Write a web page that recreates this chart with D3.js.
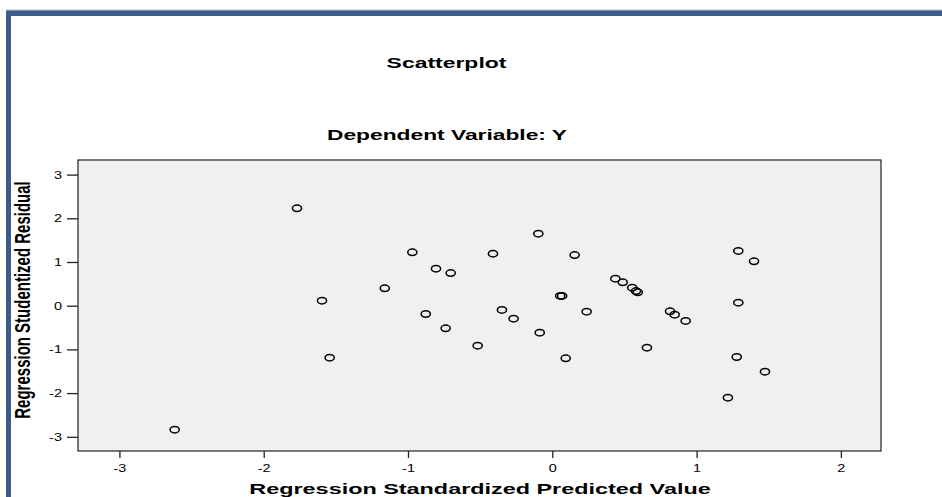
<!DOCTYPE html>
<html>
<head>
<meta charset="utf-8">
<script src="https://cdn.jsdelivr.net/npm/d3@7"></script>
<style>
  html, body { margin: 0; padding: 0; background: #ffffff; }
  svg { display: block; }
  text { font-family: "Liberation Sans", Arial, sans-serif; fill: #000; }
</style>
</head>
<body>
<svg id="chart" width="942" height="497"></svg>
<script>
// ---- Data ----
const predicted = [-2.617, -1.769, -1.596, -1.543, -1.161, -0.970, -0.877, -0.806, -0.739, -0.704,
                   -0.517, -0.411, -0.349, -0.268, -0.097, -0.087, 0.055, 0.068, 0.093, 0.155,
                   0.238, 0.437, 0.488, 0.554, 0.580, 0.592, 0.656, 0.816, 0.848, 0.924,
                   1.217, 1.278, 1.289, 1.289, 1.398, 1.474];
const residual  = [-2.838, 2.229, 0.114, -1.190, 0.398, 1.222, -0.190, 0.847, -0.517, 0.748,
                   -0.915, 1.190, -0.098, -0.297, 1.648, -0.618, 0.222, 0.222, -1.204, 1.160,
                   -0.137, 0.618, 0.535, 0.412, 0.336, 0.307, -0.961, -0.128, -0.206, -0.350,
                   -2.105, -1.174, 1.252, 0.069, 1.016, -1.510];
const xTicks = [-3, -2, -1, 0, 1, 2];
const yTicks = [-3, -2, -1, 0, 1, 2, 3];
const titleText = "Scatterplot";
const subtitleText = "Dependent Variable: Y";
const xTitle = "Regression Standardized Predicted Value";
const yTitle = "Regression Studentized Residual";

// ---- Layout ----
const SX = 1.45; // horizontal stretch of the original picture
const plot = { left: 78, top: 160, right: 881, bottom: 451 };
const svg = d3.select("#chart");

// Blue frame
svg.append("rect").attr("x", 6).attr("y", 10).attr("width", 942).attr("height", 6).attr("fill", "#3b5d8b");
svg.append("rect").attr("x", 6).attr("y", 10).attr("width", 5).attr("height", 497).attr("fill", "#3b5d8b");
svg.append("line").attr("x1", 6).attr("x2", 942).attr("y1", 10).attr("y2", 10).attr("stroke", "#b8c4d4").attr("stroke-width", 1);

// Scales
const x = d3.scaleLinear().domain([-3.287, 2.278]).range([plot.left, plot.right]);
const y = d3.scaleLinear().domain([-3.325, 3.334]).range([plot.bottom, plot.top]);

// Plot background
svg.append("rect")
  .attr("x", plot.left).attr("y", plot.top)
  .attr("width", plot.right - plot.left).attr("height", plot.bottom - plot.top)
  .attr("fill", "#f0f0f0").attr("stroke", "#222").attr("stroke-width", 1.2);

// Axes
const fmt = d => String(d);
const xAxis = svg.append("g").attr("transform", `translate(0,${plot.bottom})`)
  .call(d3.axisBottom(x).tickValues(xTicks).tickSize(7).tickFormat(fmt));
const yAxis = svg.append("g").attr("transform", `translate(${plot.left},0)`)
  .call(d3.axisLeft(y).tickValues(yTicks).tickSize(11).tickFormat(fmt));
[xAxis, yAxis].forEach(a => {
  a.select(".domain").remove();
  a.selectAll(".tick line").attr("stroke", "#222").attr("stroke-width", 1.3);
  a.selectAll(".tick text").attr("font-size", 10).attr("fill", "#000")
    .style("font-family", '"Liberation Sans", Arial, sans-serif');
});
// stretch tick labels horizontally like the original
xAxis.selectAll(".tick text").attr("y", 0).attr("dy", null)
  .attr("transform", `translate(0,21) scale(${SX},1)`);
yAxis.selectAll(".tick text").attr("x", 0).attr("dy", null)
  .attr("transform", `translate(-16,3.5) scale(${SX},1)`);

// Points (ellipses because of stretch)
svg.append("g").selectAll("ellipse")
  .data(predicted.map((p, i) => [p, residual[i]]))
  .join("ellipse")
  .attr("cx", d => x(d[0])).attr("cy", d => y(d[1]))
  .attr("rx", 4.6).attr("ry", 3.2)
  .attr("fill", "none").attr("stroke", "#000").attr("stroke-width", 1.5);

// Titles
function stretchedText(txt, cx, cy, size, sx, rotate) {
  const g = svg.append("g").attr("transform", `translate(${cx},${cy}) scale(${sx},1)` + (rotate ? ` rotate(${rotate})` : ""));
  g.append("text").attr("text-anchor", "middle").attr("font-weight", "bold")
    .attr("font-size", size).text(txt);
}
stretchedText(titleText, 446.5, 68, 15, 1.53);
stretchedText(subtitleText, 447, 139.5, 15, 1.52);
stretchedText(xTitle, 480, 493.5, 15, 1.56);
stretchedText(yTitle, 30, 300, 15, SX, -90);
</script>
</body>
</html>
